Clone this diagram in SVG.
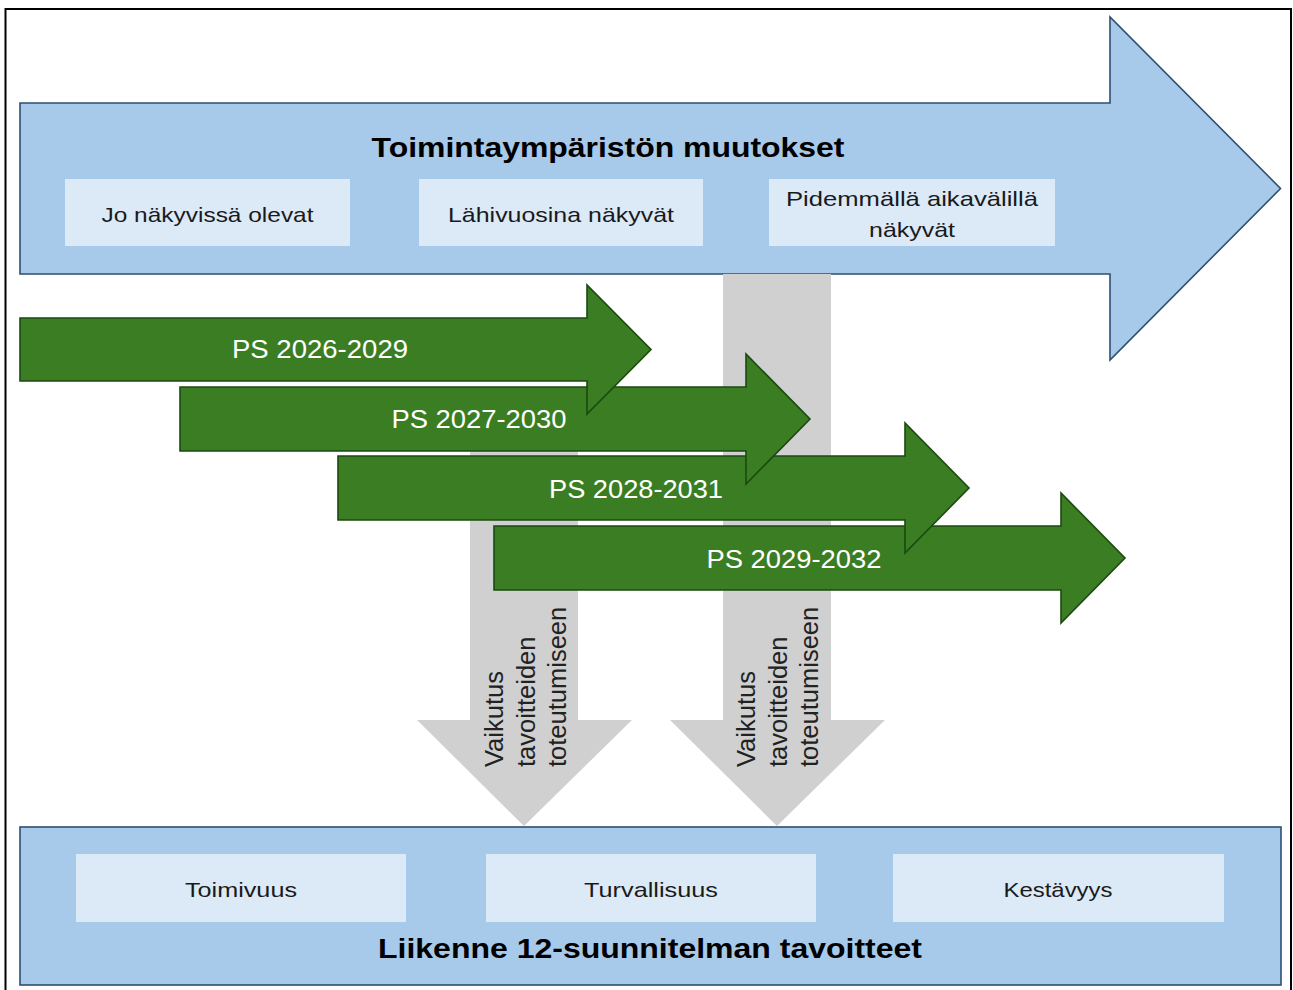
<svg xmlns="http://www.w3.org/2000/svg" width="1293" height="990" viewBox="0 0 1293 990">
<style>
.blue{fill:#A7C9EA;stroke:#2E4F72;stroke-width:1.6}
.box{fill:#DCE9F6}
.green{fill:#3B7D23;stroke:#1B4A10;stroke-width:1.6}
.grey{fill:#D0D0D0}
.t{font-family:"Liberation Sans",Arial,sans-serif;fill:#1a1a1a}
.lbl{font-size:21px;text-anchor:middle}
.title{font-size:28px;font-weight:bold;text-anchor:middle;fill:#000}
.ps{font-family:"Liberation Sans",Arial,sans-serif;font-size:26px;fill:#fff;text-anchor:middle}
.rot{font-family:"Liberation Sans",Arial,sans-serif;font-size:25.5px;fill:#222}
</style>
<rect x="0" y="0" width="1293" height="990" fill="#fff"/>
<rect x="5.5" y="9" width="1285.5" height="995" fill="#fff" stroke="#000" stroke-width="2"/>

<g id="env-arrow">
<polygon class="blue" points="20,103 1110,103 1110,17 1280.5,188.5 1110,360 1110,274 20,274"/>
<text class="t title" x="608" y="157" textLength="473" lengthAdjust="spacingAndGlyphs">Toimintaympäristön muutokset</text>
</g>
<g id="box-jo">
<rect class="box" x="65" y="179" width="285" height="67"/>
<text class="t lbl" x="207.5" y="222" textLength="212" lengthAdjust="spacingAndGlyphs">Jo näkyvissä olevat</text>
</g>
<g id="box-lahi">
<rect class="box" x="419" y="179" width="284" height="67"/>
<text class="t lbl" x="561" y="222" textLength="226" lengthAdjust="spacingAndGlyphs">Lähivuosina näkyvät</text>
</g>
<g id="box-pid">
<rect class="box" x="769" y="179" width="286" height="67"/>
<text class="t lbl" x="912" y="206" textLength="252" lengthAdjust="spacingAndGlyphs">Pidemmällä aikavälillä</text>
<text class="t lbl" x="912" y="237" textLength="86" lengthAdjust="spacingAndGlyphs">näkyvät</text>
</g>

<g id="connectors">
<g id="impact-right">
<polygon class="grey" points="723,274 831,274 831,720 885,720 777,826 670,720 723,720"/>
</g>
<g id="impact-left">
<polygon class="grey" points="470,400 578,400 578,720 632,720 524,826 417,720 470,720"/>
</g>
</g>

<g id="ps-2029">
<polygon class="green" points="494,526 1061,526 1061,493 1125,558 1061,623 1061,590 494,590"/>
<text class="ps" x="794" y="568" textLength="175" lengthAdjust="spacingAndGlyphs">PS 2029-2032</text>
</g>
<g id="ps-2028">
<polygon class="green" points="338,456 905,456 905,423 969,488 905,553 905,520 338,520"/>
<text class="ps" x="636" y="498" textLength="174" lengthAdjust="spacingAndGlyphs">PS 2028-2031</text>
</g>
<g id="ps-2027">
<polygon class="green" points="180,387 746,387 746,354 810,419 746,484 746,451 180,451"/>
<text class="ps" x="479" y="428" textLength="175" lengthAdjust="spacingAndGlyphs">PS 2027-2030</text>
</g>
<g id="ps-2026">
<polygon class="green" points="20,318 587,318 587,285 651,349.5 587,414 587,381 20,381"/>
<text class="ps" x="320" y="358" textLength="176" lengthAdjust="spacingAndGlyphs">PS 2026-2029</text>
</g>

<g id="impact-left-label">
<text class="rot" transform="translate(503,767) rotate(-90)">Vaikutus</text>
<text class="rot" transform="translate(535,767) rotate(-90)">tavoitteiden</text>
<text class="rot" transform="translate(566,767) rotate(-90)">toteutumiseen</text>
</g>
<g id="impact-right-label">
<text class="rot" transform="translate(755,767) rotate(-90)">Vaikutus</text>
<text class="rot" transform="translate(787,767) rotate(-90)">tavoitteiden</text>
<text class="rot" transform="translate(818,767) rotate(-90)">toteutumiseen</text>
</g>

<g id="goals">
<rect class="blue" x="20" y="827" width="1261" height="158"/>
<text class="t title" x="650" y="958" textLength="544" lengthAdjust="spacingAndGlyphs">Liikenne 12-suunnitelman tavoitteet</text>
</g>
<g id="goal-toimivuus">
<rect class="box" x="76" y="854" width="330" height="68"/>
<text class="t lbl" x="241" y="897" textLength="112" lengthAdjust="spacingAndGlyphs">Toimivuus</text>
</g>
<g id="goal-turvallisuus">
<rect class="box" x="486" y="854" width="330" height="68"/>
<text class="t lbl" x="651" y="897" textLength="134" lengthAdjust="spacingAndGlyphs">Turvallisuus</text>
</g>
<g id="goal-kestavyys">
<rect class="box" x="893" y="854" width="331" height="68"/>
<text class="t lbl" x="1058" y="897" textLength="109" lengthAdjust="spacingAndGlyphs">Kestävyys</text>
</g>
</svg>
